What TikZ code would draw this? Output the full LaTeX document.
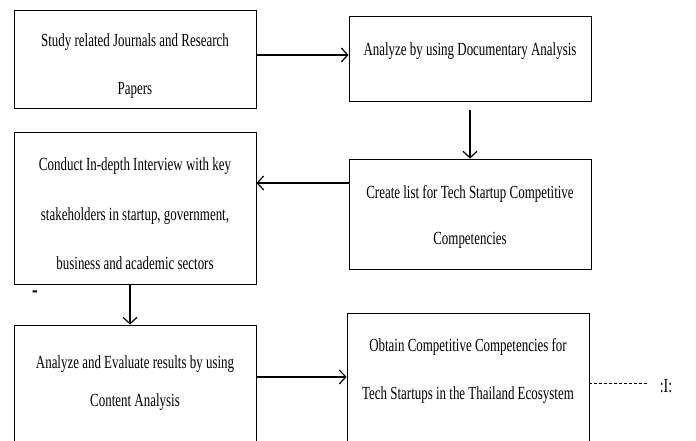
\documentclass[tikz,border=0pt]{standalone}
\usepackage{fontspec}
\setmainfont{Liberation Serif}[FakeStretch=0.70]
\usepackage{tikz}
\usetikzlibrary{arrows.meta, positioning, calc, shadows}

\tikzset{
  stepbox/.style={draw, line width=0.8pt, fill=white, minimum width=242pt, inner sep=0pt,
    drop shadow={opacity=0.25, shadow xshift=1.2pt, shadow yshift=-1.2pt}},
  steptext/.style={align=center, inner sep=0pt, font=\fontsize{18.5}{#1}\selectfont},
  steptext/.default=48,
  flow/.style={line width=1.4pt, -{Straight Barb[length=6.5pt, width=14pt, line width=1.2pt]}}
}

\begin{document}
\begin{tikzpicture}[x=1pt, y=-1pt]
        \useasboundingbox (0,0) rectangle (696,441);
        \clip (0,0) rectangle (696,441);
        % boxes
        \node[stepbox, minimum height=98pt] (study) at (135,59) {};
        \node[stepbox, minimum height=152pt] (interview) at (135,208) {};
        \node[stepbox, minimum height=120pt] (evaluate) at (135,385) {};
        \node[stepbox, minimum height=85pt] (docana) at (470,58.5) {};
        \node[stepbox, minimum height=110pt] (clist) at (470,214) {};
        \node[stepbox, minimum height=160pt] (obtain) at (468,393) {};
        % texts
        \node[steptext] (study-t) at (135,66) {Study related Journals and Research\\Papers};
        \node[steptext=49.5] (interview-t) at (135,214) {Conduct In-depth Interview with key\\stakeholders in startup, government,\\business and academic sectors};
        \node[steptext=38] (evaluate-t) at (135,383) {Analyze and Evaluate results by using\\Content Analysis};
        \node[steptext] (docana-t) at (470,51) {Analyze by using Documentary Analysis};
        \node[steptext=46] (clist-t) at (470,217) {Create list for Tech Startup Competitive\\Competencies};
        \node[steptext] (obtain-t) at (468,371) {Obtain Competitive Competencies for\\Tech Startups in the Thailand Ecosystem};
        \node[font=\fontsize{24}{24}\selectfont\bfseries] (stray) at (35,294) {-};
        \node[font=\fontsize{20}{20}\selectfont] (tail) at (666,386) {:I:};
        \coordinate (dashend) at (648,383);
        % connectors
        \draw[flow] ([yshift=4pt]study.east) -- ([yshift=4pt]study.east -| docana.west);
        \draw[flow, shorten <=9pt] (docana.south) -- (clist.north);
        \draw[flow] ([yshift=31pt]clist.west) -- ([yshift=31pt]clist.west -| interview.east);
        \draw[flow] ([xshift=-5pt]interview.south) -- ([xshift=-5pt]interview.south |- evaluate.north);
        \draw[flow] ([yshift=8pt]evaluate.east) -- ([yshift=8pt]evaluate.east -| obtain.west);
        \draw[line width=0.9pt, dash pattern=on 3pt off 2pt] ([yshift=10pt]obtain.east) -- (dashend);
    \end{tikzpicture}
\end{document}
